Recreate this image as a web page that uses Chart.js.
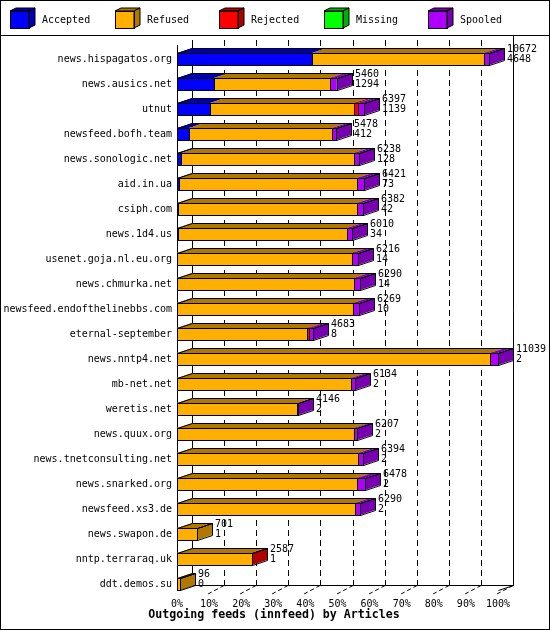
<!DOCTYPE html>
<html lang="en">
<head>
  <meta charset="UTF-8" />
  <title>Outgoing feeds (innfeed) by Articles</title>
  <script src="https://cdn.jsdelivr.net/npm/chart.js"></script>
  <style>
    html, body { margin: 0; padding: 0; background: #fff; }
    canvas { display: block; }
  </style>
</head>
<body>
  <canvas id="feeds" width="550" height="630"></canvas>

  <script>
    const hosts = [
      "news.hispagatos.org", "news.ausics.net", "utnut", "newsfeed.bofh.team",
      "news.sonologic.net", "aid.in.ua", "csiph.com", "news.1d4.us",
      "usenet.goja.nl.eu.org", "news.chmurka.net", "newsfeed.endofthelinebbs.com",
      "eternal-september", "news.nntp4.net", "mb-net.net", "weretis.net",
      "news.quux.org", "news.tnetconsulting.net", "news.snarked.org",
      "newsfeed.xs3.de", "news.swapon.de", "nntp.terraraq.uk", "ddt.demos.su"
    ];
    // numbers printed next to each bar
    const offered = [10672, 5460, 6397, 5478, 6238, 6421, 6382, 6010, 6216, 6290, 6269,
                     4683, 11039, 6134, 4146, 6207, 6394, 6478, 6290, 701, 2587, 96];
    const acceptedArticles = [4648, 1294, 1139, 412, 128, 73, 42, 34, 14, 14, 10,
                              8, 2, 2, 2, 2, 2, 2, 2, 1, 1, 0];

    // bar segments, % of the biggest feed
    const accepted = [42.1, 11.6, 10.3, 3.7, 1.2, 0.7, 0.4, 0.3, 0.1, 0.1, 0.1,
                      0.1, 0, 0, 0, 0, 0, 0, 0, 0, 0, 0];
    const refused  = [53.4, 36.0, 44.8, 44.6, 53.9, 55.5, 55.8, 52.8, 54.3, 55.1, 54.6,
                      40.5, 97.6, 54.2, 37.5, 55.0, 56.3, 56.0, 55.4, 6.35, 23.35, 0.87];
    const rejected = [0, 0, 1.4, 0, 0, 0, 0, 0, 0, 0, 0,
                      0.5, 0, 0, 0, 0, 0, 0, 0, 0, 0.05, 0];
    const missing  = [0, 0, 0, 0, 0, 0, 0, 0, 0, 0, 0,
                      0, 0, 0, 0, 0, 0, 0, 0, 0, 0, 0];
    const spooled  = [1.6, 2.1, 1.7, 1.3, 1.5, 2.1, 1.7, 1.4, 1.9, 1.8, 2.1,
                      1.3, 2.4, 1.4, 0.05, 1.2, 1.6, 2.7, 1.6, 0, 0, 0];

    const xTicks = [0, 10, 20, 30, 40, 50, 60, 70, 80, 90, 100];
    const seriesNames = ["Accepted", "Refused", "Rejected", "Missing", "Spooled"];
    const series = [accepted, refused, rejected, missing, spooled];

    const faceColors  = ["#0000ff", "#ffaf00", "#ff0000", "#00ff00", "#af00ff"];
    const shadeColors = ["#0000b0", "#b07800", "#b00000", "#00b000", "#7800b0"];

    const FONT = "DejaVu Sans Mono";
    const DX = 15, DY = 5;   // depth of the 3d look

    function poly(ctx, pts) {
      ctx.beginPath();
      ctx.moveTo(pts[0][0], pts[0][1]);
      for (let i = 1; i < pts.length; i++) ctx.lineTo(pts[i][0], pts[i][1]);
      ctx.closePath();
    }

    function line(ctx, x1, y1, x2, y2) {
      ctx.beginPath();
      ctx.moveTo(x1, y1);
      ctx.lineTo(x2, y2);
      ctx.stroke();
    }

    // small cube for the legend
    function cube(ctx, x, y, w, h, dx, dy, face, shade) {
      ctx.fillStyle = face;
      ctx.fillRect(x, y, w, h);
      ctx.fillStyle = shade;
      poly(ctx, [[x, y], [x + w, y], [x + w + dx, y - dy], [x + dx, y - dy]]);
      ctx.fill(); ctx.stroke();
      poly(ctx, [[x + w, y], [x + w + dx, y - dy], [x + w + dx, y + h - dy], [x + w, y + h]]);
      ctx.fill(); ctx.stroke();
      ctx.strokeRect(x + 0.5, y + 0.5, w, h);
    }

    const depthPlugin = {
      id: "depth",
      beforeDraw(chart) {
        const ctx = chart.ctx;
        ctx.save();
        ctx.fillStyle = "#fff";
        ctx.fillRect(0, 0, chart.width, chart.height);
        ctx.restore();
      },
      beforeDatasetsDraw(chart) {
        const ctx = chart.ctx;
        const xs = chart.scales.x, ys = chart.scales.y;
        const left = Math.round(xs.getPixelForValue(0));
        const right = Math.round(xs.getPixelForValue(100));
        const floor = Math.round(ys.getPixelForValue(hosts.length - 1) + 6);
        const back = floor - DY;

        ctx.save();
        ctx.strokeStyle = "#000";
        ctx.lineWidth = 1;
        // walls and floor
        line(ctx, left + DX + 0.5, 40, left + DX + 0.5, back + 0.5);
        line(ctx, right + DX + 0.5, 36, right + DX + 0.5, back + 0.5);
        line(ctx, left + DX, back + 0.5, right + DX + 1, back + 0.5);
        line(ctx, left + 0.5, floor + 0.5, left + DX + 0.5, back + 0.5);
        line(ctx, right + 0.5, floor + 0.5, right + DX + 0.5, back + 0.5);
        line(ctx, left + 0.5, 45, left + 0.5, floor + 1);

        // dashed grid on the back wall and floor
        ctx.setLineDash([6, 4]);
        xTicks.slice(1, -1).forEach(v => {
          const xf = Math.round(xs.getPixelForValue(v));
          line(ctx, xf + DX + 0.5, 40, xf + DX + 0.5, back);
        });
        ctx.setLineDash([4, 3]);
        xTicks.slice(1).forEach(v => {
          const xf = Math.round(xs.getPixelForValue(v));
          line(ctx, xf + DX, back + 0.5, xf - 1, floor + 4);
        });
        ctx.restore();
      },
      afterDatasetsDraw(chart) {
        const ctx = chart.ctx;
        const metas = series.map((_, k) => chart.getDatasetMeta(k));
        ctx.save();
        ctx.strokeStyle = "#000";
        ctx.lineWidth = 1;
        ctx.font = "10px '" + FONT + "'";
        ctx.textBaseline = "middle";
        ctx.textAlign = "left";

        hosts.forEach((host, i) => {
          const parts = [];
          series.forEach((vals, k) => {
            if (vals[i] > 0) {
              const el = metas[k].data[i];
              const p = el.getProps(["x", "base", "y", "height"], true);
              parts.push({ k, xa: Math.round(p.base), xb: Math.round(p.x), y: p.y, h: p.height });
            }
          });
          if (!parts.length) return;
          const yt = Math.round(parts[0].y - parts[0].h / 2);
          const yb = yt + Math.round(parts[0].h);
          const x0 = parts[0].xa;
          const last = parts[parts.length - 1];
          const xe = Math.max(last.xb, x0 + 1);

          // top faces
          parts.forEach(s => {
            const xb = Math.max(s.xb, s.xa + 1);
            ctx.fillStyle = shadeColors[s.k];
            poly(ctx, [[s.xa, yt], [xb, yt], [xb + DX, yt - DY], [s.xa + DX, yt - DY]]);
            ctx.fill();
          });
          // side face of the last segment
          ctx.fillStyle = shadeColors[last.k];
          poly(ctx, [[xe, yt], [xe + DX, yt - DY], [xe + DX, yb - DY], [xe, yb]]);
          ctx.fill();

          // outlines
          poly(ctx, [[x0 + 0.5, yt + 0.5], [xe + 0.5, yt + 0.5], [xe + DX + 0.5, yt - DY + 0.5], [x0 + DX + 0.5, yt - DY + 0.5]]);
          ctx.stroke();
          poly(ctx, [[xe + 0.5, yt + 0.5], [xe + DX + 0.5, yt - DY + 0.5], [xe + DX + 0.5, yb - DY + 0.5], [xe + 0.5, yb + 0.5]]);
          ctx.stroke();
          parts.forEach(s => {
            ctx.strokeRect(s.xa + 0.5, yt + 0.5, Math.max(s.xb - s.xa, 0), yb - yt);
          });

          // value labels
          ctx.fillStyle = "#000";
          ctx.fillText(String(offered[i]), xe + DX + 3, yt - 3.5);
          ctx.fillText(String(acceptedArticles[i]), xe + DX + 3, yt + 6.5);
        });
        ctx.restore();
      },
      afterDraw(chart) {
        const ctx = chart.ctx;
        ctx.save();
        ctx.strokeStyle = "#000";
        ctx.lineWidth = 1;
        // frame and legend strip
        ctx.strokeRect(0.5, 0.5, chart.width - 1, chart.height - 1);
        line(ctx, 0, 35.5, chart.width, 35.5);
        ctx.font = "10px '" + FONT + "'";
        ctx.textBaseline = "middle";
        ctx.textAlign = "left";
        seriesNames.forEach((name, k) => {
          const lx = Math.round(10 + k * 104.6);
          cube(ctx, lx, 11, 19, 17, 6, 3, faceColors[k], shadeColors[k]);
          ctx.fillStyle = "#000";
          ctx.fillText(name, lx + 32, 20);
        });
        // axis title
        ctx.font = "bold 11.6px '" + FONT + "'";
        ctx.textAlign = "center";
        ctx.textBaseline = "alphabetic";
        ctx.fillText("Outgoing feeds (innfeed) by Articles", 274, 618);
        ctx.restore();
      }
    };

    new Chart(document.getElementById("feeds"), {
      type: "bar",
      data: {
        labels: hosts,
        datasets: seriesNames.map((name, k) => ({
          label: name,
          data: series[k],
          backgroundColor: faceColors[k],
          borderWidth: 0,
          barThickness: 12
        }))
      },
      options: {
        indexAxis: "y",
        responsive: false,
        devicePixelRatio: 1,
        animation: false,
        layout: { padding: { top: 46.5, left: 1, right: 52, bottom: 21.5 } },
        plugins: { legend: { display: false }, tooltip: { enabled: false } },
        scales: {
          x: {
            stacked: true,
            min: 0,
            max: 100,
            afterBuildTicks: s => { s.ticks = xTicks.map(v => ({ value: v })); },
            afterFit: s => { s.height = 12; },
            grid: { display: false, drawTicks: false },
            border: { display: false },
            ticks: {
              callback: v => v + "%",
              font: { family: FONT, size: 10 },
              color: "#000",
              padding: 2,
              maxRotation: 0,
              autoSkip: false
            }
          },
          y: {
            stacked: true,
            afterFit: s => { s.width = 176; },
            grid: { display: false, drawTicks: false },
            border: { display: false },
            ticks: {
              font: { family: FONT, size: 10 },
              color: "#000",
              padding: 5,
              autoSkip: false
            }
          }
        }
      },
      plugins: [depthPlugin]
    });
  </script>
</body>
</html>
